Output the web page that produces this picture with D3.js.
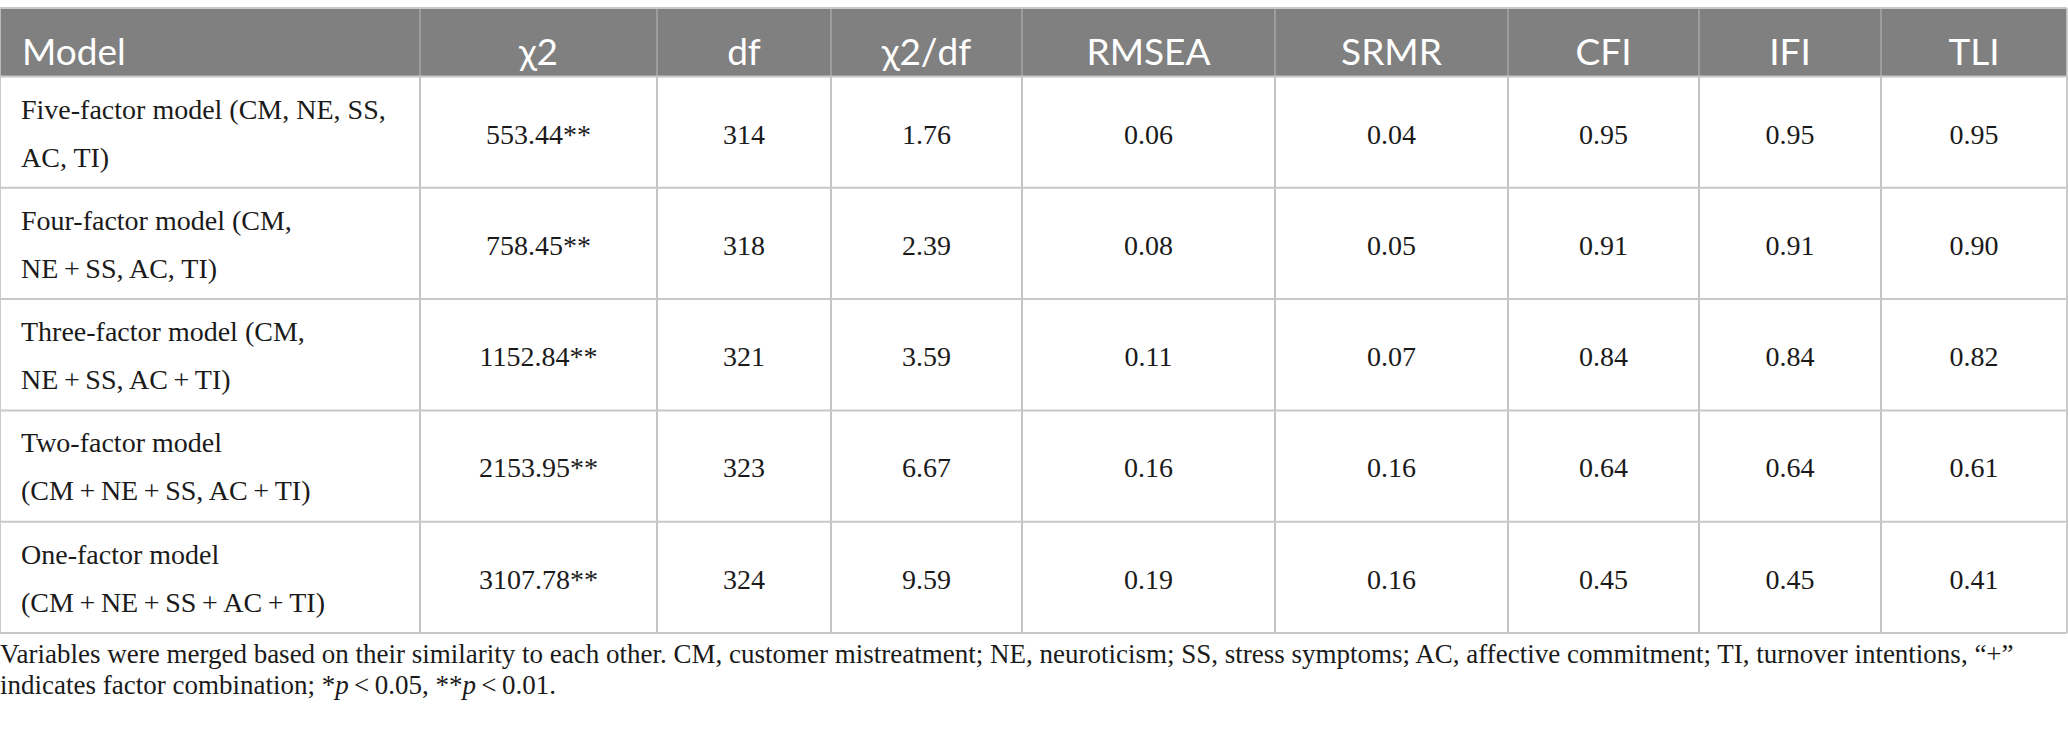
<!DOCTYPE html>
<html>
<head>
<meta charset="utf-8">
<script src="https://cdn.jsdelivr.net/npm/d3@7"></script>
<style>
  body { margin: 0; background: #fff; }
  svg { display: block; }
</style>
</head>
<body>
<div id="chart"></div>
<script>
// table content
const columns = ["Model", "\u03c72", "df", "\u03c72/df", "RMSEA", "SRMR", "CFI", "IFI", "TLI"];
const models = [
  ["Five-factor model (CM, NE, SS,", "AC, TI)"],
  ["Four-factor model (CM,", "NE\u2009+\u2009SS, AC, TI)"],
  ["Three-factor model (CM,", "NE\u2009+\u2009SS, AC\u2009+\u2009TI)"],
  ["Two-factor model", "(CM\u2009+\u2009NE\u2009+\u2009SS, AC\u2009+\u2009TI)"],
  ["One-factor model", "(CM\u2009+\u2009NE\u2009+\u2009SS\u2009+\u2009AC\u2009+\u2009TI)"],
];
const chi2 = [553.44, 758.45, 1152.84, 2153.95, 3107.78];
const df = [314, 318, 321, 323, 324];
const chi2df = [1.76, 2.39, 3.59, 6.67, 9.59];
const rmsea = [0.06, 0.08, 0.11, 0.16, 0.19];
const srmr = [0.04, 0.05, 0.07, 0.16, 0.16];
const cfi = [0.95, 0.91, 0.84, 0.64, 0.45];
const ifi = [0.95, 0.91, 0.84, 0.64, 0.45];
const tli = [0.95, 0.90, 0.82, 0.61, 0.41];
const footnote = [
  "Variables were merged based on their similarity to each other. CM, customer mistreatment; NE, neuroticism; SS, stress symptoms; AC, affective commitment; TI, turnover intentions, \u201c+\u201d",
  "indicates factor combination; *p\u2009<\u20090.05, **p\u2009<\u20090.01."
];

// layout
const width = 2068, height = 730;
const edges = [0, 420, 657, 831, 1022, 1275, 1508, 1699, 1881, 2067];
const headTop = 8, headBottom = 76.5, tableBottom = 633;
const serif = "'Liberation Serif', 'Times New Roman', serif";
const sans = "Lato, 'Open Sans', sans-serif";
const lineColor = "#c8c8c8";

const f2 = d3.format(".2f");
const cells = [
  chi2.map(v => f2(v) + "**"),
  df.map(String),
  chi2df.map(f2),
  rmsea.map(f2),
  srmr.map(f2),
  cfi.map(f2),
  ifi.map(f2),
  tli.map(f2),
];

const colLeft = d3.scaleOrdinal(columns, edges.slice(0, -1));
const colRight = d3.scaleOrdinal(columns, edges.slice(1));
const colMid = c => (colLeft(c) + colRight(c)) / 2;

const y = d3.scaleBand()
  .domain(d3.range(models.length))
  .range([headBottom, tableBottom]);

const svg = d3.select("#chart").append("svg")
  .attr("width", width)
  .attr("height", height);

svg.append("rect").attr("width", width).attr("height", height).attr("fill", "#fff");

// header band
svg.append("rect")
  .attr("x", 0).attr("y", headTop)
  .attr("width", edges[edges.length - 1]).attr("height", headBottom - headTop)
  .attr("fill", "#808080");

// grid lines
const grid = svg.append("g").attr("stroke", lineColor).attr("fill", "none");
grid.selectAll("line.v")
  .data(edges)
  .join("line")
  .attr("class", "v")
  .attr("x1", d => d).attr("x2", d => d)
  .attr("y1", headTop).attr("y2", tableBottom)
  .attr("stroke", (d, i) => (i > 0 && i < edges.length - 1) ? "#a4a4a4" : lineColor)
  .attr("stroke-width", 1.6);
grid.selectAll("line.v2")
  .data(edges)
  .join("line")
  .attr("class", "v2")
  .attr("x1", d => d).attr("x2", d => d)
  .attr("y1", headBottom).attr("y2", tableBottom)
  .attr("stroke-width", 1.6);
grid.selectAll("line.h")
  .data([headTop, ...d3.range(models.length).map(i => y(i)), tableBottom])
  .join("line")
  .attr("class", "h")
  .attr("x1", 0).attr("x2", edges[edges.length - 1])
  .attr("y1", d => d).attr("y2", d => d)
  .attr("stroke-width", 2);

// header labels
svg.append("g")
  .selectAll("text")
  .data(columns)
  .join("text")
  .attr("x", (d, i) => i === 0 ? 22 : colMid(d))
  .attr("y", 65)
  .attr("text-anchor", (d, i) => i === 0 ? "start" : "middle")
  .attr("font-family", sans)
  .attr("font-size", 37)
  .attr("fill", "#fff")
  .text(d => d);

// model names
const rowG = svg.append("g")
  .attr("font-family", serif)
  .attr("font-size", 28)
  .attr("fill", "#1a1a1a");

rowG.selectAll("text.model")
  .data(models)
  .join("text")
  .attr("class", "model")
  .attr("x", 21)
  .attr("y", (d, i) => y(i))
  .selectAll("tspan")
  .data(d => d)
  .join("tspan")
  .attr("x", 21)
  .attr("dy", (d, j) => j === 0 ? 42 : 48)
  .text(d => d);

// numeric cells
cells.forEach((vals, ci) => {
  const col = columns[ci + 1];
  rowG.selectAll(null)
    .data(vals)
    .join("text")
    .attr("x", colMid(col))
    .attr("y", (d, i) => y(i) + 67)
    .attr("text-anchor", "middle")
    .text(d => d);
});

// footnote
const note = svg.append("g")
  .attr("font-family", serif)
  .attr("font-size", 27)
  .attr("fill", "#1a1a1a");

note.selectAll("text")
  .data(footnote)
  .join("text")
  .attr("x", 0)
  .attr("y", (d, i) => 663 + i * 31)
  .each(function (d) {
    // italic p after asterisks
    const parts = d.split(/(\*+p)/);
    const t = d3.select(this);
    parts.forEach(p => {
      const m = p.match(/^(\*+)p$/);
      if (m) {
        t.append("tspan").text(m[1]);
        t.append("tspan").attr("font-style", "italic").text("p");
      } else if (p) {
        t.append("tspan").text(p);
      }
    });
  });
</script>
</body>
</html>
